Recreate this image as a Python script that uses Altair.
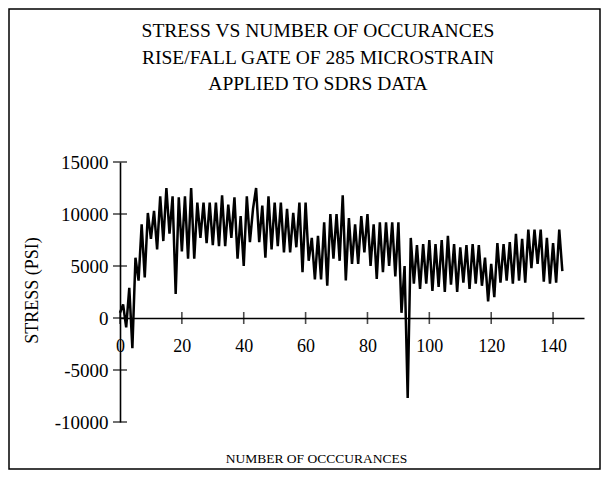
import altair as alt
import pandas as pd

# ---- data ----
stress = [
    500, 1300, -900, 2900, -2900, 5800, 3600, 9000, 3900, 10100,
    7600, 10300, 6600, 11700, 7400, 12500, 8100, 11700, 2300, 11600,
    6400, 11700, 5700, 12500, 5700, 11100, 7700, 11100, 7200, 11100,
    7000, 11100, 6900, 11800, 6900, 10900, 7700, 11600, 5700, 9800,
    5000, 11700, 7300, 10500, 12500, 7300, 10800, 5800, 11700, 6600,
    11100, 6900, 11100, 6300, 10500, 6300, 10100, 6800, 11100, 4400,
    11100, 5500, 7700, 3700, 7900, 3700, 9200, 3100, 10000, 5700,
    10000, 5500, 11800, 3600, 9600, 5200, 9000, 5200, 9800, 6300,
    10000, 5000, 9000, 3750, 9200, 4400, 9200, 5000, 9200, 4000,
    9200, 500, 5000, -7700, 7700, 3300, 7000, 2800, 7100, 3300,
    7500, 2600, 7100, 3000, 7500, 2500, 7900, 3200, 7100, 2500,
    6800, 3400, 7000, 2800, 7100, 3300, 7000, 3100, 5800, 1600,
    5200, 2000, 7200, 3400, 7100, 3600, 7300, 3300, 8100, 3600,
    7600, 3400, 8500, 4800, 8500, 5200, 8500, 3500, 7700, 3300,
    7200, 3400, 8500, 4500,
]
occurrences = list(range(len(stress)))

x_ticks = [0, 20, 40, 60, 80, 100, 120, 140]
y_ticks = [-10000, -5000, 0, 5000, 10000, 15000]

title_lines = [
    "STRESS VS NUMBER OF OCCURANCES",
    "RISE/FALL GATE OF 285 MICROSTRAIN",
    "APPLIED TO SDRS DATA",
]
x_title = "NUMBER OF OCCCURANCES"
y_title = "STRESS (PSI)"

FONT = "Liberation Serif"
W, H = 464, 260

df = pd.DataFrame({"n": occurrences, "s": stress})
xt = pd.DataFrame({"v": x_ticks})
yt = pd.DataFrame({"v": y_ticks})

xscale = alt.Scale(domain=[0, 150], nice=False, zero=False)
yscale = alt.Scale(domain=[-10000, 15000], nice=False, zero=False)

line = alt.Chart(df).mark_line(color="black", strokeWidth=2.5).encode(
    x=alt.X("n:Q", scale=xscale,
            axis=alt.Axis(values=x_ticks, ticks=False, grid=False, offset=-104,
                          domainColor="black", domainWidth=1.6,
                          labelFont=FONT, labelFontSize=18, labelColor="black",
                          labelPadding=19, labelFlush=False,
                          title=x_title, titleFont=FONT, titleFontSize=13.5,
                          titleFontWeight="normal", titleColor="black",
                          titleX=196, titleY=140, titleBaseline="middle",
                          titleAlign="center")),
    y=alt.Y("s:Q", scale=yscale,
            axis=alt.Axis(values=y_ticks, ticks=False, grid=False,
                          domainColor="black", domainWidth=1.6,
                          labelFont=FONT, labelFontSize=19, labelColor="black",
                          labelPadding=12, labelFlush=False,
                          labelExpr="datum.value < 0 ? '-' + abs(datum.value) : '' + datum.value",
                          title=y_title, titleFont=FONT, titleFontSize=18,
                          titleFontWeight="normal", titleColor="black",
                          titleX=-88, titleY=128, titleAngle=270,
                          titleBaseline="middle", titleAlign="center")),
)

xtick_marks = alt.Chart(xt).mark_tick(orient="vertical", color="black",
                                      size=12, thickness=1.6).encode(
    x=alt.X("v:Q", scale=xscale),
    y=alt.datum(0, scale=yscale),
)

ytick_marks = alt.Chart(yt).mark_tick(orient="horizontal", color="black",
                                      size=14, thickness=1.6).encode(
    y=alt.Y("v:Q", scale=yscale),
    x=alt.datum(0, scale=xscale),
)

one = pd.DataFrame({"k": [0]})

frame = alt.Chart(one).mark_rect(
    fill="transparent", stroke="black", strokeWidth=1.5
).encode(
    x=alt.value(-111), x2=alt.value(480),
    y=alt.value(-153), y2=alt.value(307),
)

title_text = alt.Chart(one).mark_text(
    font=FONT, fontSize=19.5, color="black", align="center",
    baseline="middle", lineHeight=26.5
).encode(
    text=alt.value(title_lines),
    x=alt.value(198), y=alt.value(-131),
)

chart = alt.layer(frame, line, xtick_marks, ytick_marks, title_text).properties(
    width=W, height=H,
    autosize=alt.AutoSizeParams(type="none"),
    padding={"left": 112, "top": 154, "right": 17, "bottom": 48},
).configure_view(strokeOpacity=0).configure_axis(labelFontWeight="normal")

chart.save("out.html", embed_options={"renderer": "svg", "actions": False})
